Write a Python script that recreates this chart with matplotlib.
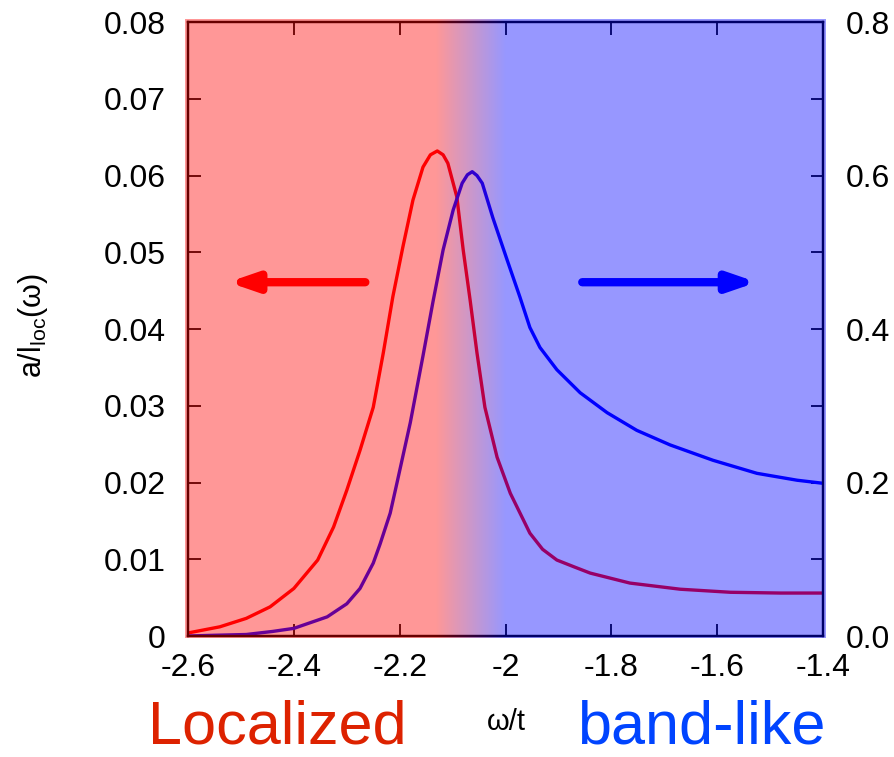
import numpy as np
import matplotlib
matplotlib.use('Agg')
from matplotlib import pyplot as plt

plt.rcParams['font.family'] = ['Liberation Sans', 'DejaVu Sans']
plt.rcParams['mathtext.fontset'] = 'custom'
plt.rcParams['mathtext.rm'] = 'Liberation Sans'
plt.rcParams['mathtext.it'] = 'Liberation Sans'

# localized spectral weight (left axis)
w_loc = [-2.60, -2.54, -2.49, -2.445, -2.40, -2.355, -2.325, -2.30, -2.275, -2.25,
         -2.231, -2.213, -2.194, -2.175, -2.156, -2.142, -2.129, -2.118, -2.109, -2.092,
         -2.080, -2.067, -2.054, -2.039, -2.016, -1.991, -1.954, -1.93, -1.903, -1.87,
         -1.84, -1.765, -1.67, -1.575, -1.48, -1.40]
a_loc = [0.0004, 0.0012, 0.0023, 0.0038, 0.0062, 0.0099, 0.0142, 0.0190, 0.0242, 0.0298,
         0.0369, 0.0442, 0.0507, 0.0568, 0.0611, 0.0627, 0.0632, 0.0627, 0.0616, 0.0572,
         0.0503, 0.0438, 0.0369, 0.0298, 0.0233, 0.0186, 0.0134, 0.0113, 0.0099, 0.0090,
         0.0082, 0.0069, 0.0061, 0.0057, 0.0056, 0.0056]

# band-like spectral weight (right axis)
w_band = [-2.60, -2.55, -2.49, -2.44, -2.40, -2.337, -2.30, -2.275, -2.25, -2.237,
          -2.218, -2.205, -2.18, -2.156, -2.137, -2.118, -2.099, -2.082, -2.072, -2.063,
          -2.054, -2.044, -2.024, -1.997, -1.973, -1.954, -1.935, -1.903, -1.859, -1.808,
          -1.752, -1.689, -1.608, -1.525, -1.449, -1.40]
a_band = [0.0, 0.001, 0.002, 0.006, 0.010, 0.025, 0.042, 0.062, 0.095, 0.120,
          0.160, 0.200, 0.278, 0.365, 0.436, 0.503, 0.555, 0.590, 0.601, 0.605,
          0.600, 0.590, 0.545, 0.490, 0.442, 0.402, 0.376, 0.347, 0.317, 0.291,
          0.268, 0.249, 0.229, 0.212, 0.203, 0.199]

xticks = [-2.6, -2.4, -2.2, -2.0, -1.8, -1.6, -1.4]
xlabels = ['-2.6', '-2.4', '-2.2', '-2', '-1.8', '-1.6', '-1.4']
lticks = [0, 0.01, 0.02, 0.03, 0.04, 0.05, 0.06, 0.07, 0.08]
llabels = ['0', '0.01', '0.02', '0.03', '0.04', '0.05', '0.06', '0.07', '0.08']
rticks = [0.0, 0.2, 0.4, 0.6, 0.8]
rlabels = ['0.0', '0.2', '0.4', '0.6', '0.8']
rminor = [0.1, 0.3, 0.5, 0.7]

# colour change between the two regimes
w_red_end, w_blue_start = -2.13, -2.0

fig = plt.figure(figsize=(8.95, 7.57), dpi=100)
ax = fig.add_axes([0.2101, 0.1598, 0.7095, 0.8111])
ax2 = ax.twinx()

ax.plot(w_loc, a_loc, color='#ff0000', lw=2.4, solid_joinstyle='round')
ax2.plot(w_band, a_band, color='#0000ff', lw=2.4, solid_joinstyle='round')

ax.set_xlim(-2.6, -1.4)
ax.set_ylim(0, 0.08)
ax2.set_ylim(0, 0.8)

ax.set_xticks(xticks)
ax.set_xticklabels(xlabels)
ax.set_yticks(lticks)
ax.set_yticklabels(llabels)
ax2.set_yticks(rticks)
ax2.set_yticklabels(rlabels)
ax2.set_yticks(rminor, minor=True)

ax.tick_params(axis='both', direction='in', length=9, width=1.3, labelsize=23)
ax.tick_params(axis='x', top=True, pad=12)
ax.tick_params(axis='y', pad=16)
ax2.tick_params(axis='y', which='both', direction='in', length=9, width=1.3, labelsize=23, pad=16)
for a in (ax, ax2):
    for s in a.spines.values():
        s.set_linewidth(1.6)

# arrows pointing to the axis each curve belongs to
ax.annotate('', xy=(-2.524, 0.0461), xytext=(-2.265, 0.0461),
            arrowprops=dict(arrowstyle='-|>,head_length=1.6,head_width=0.55',
                            color='#ff0000', lw=6, shrinkA=0, shrinkB=0))
ax.annotate('', xy=(-1.525, 0.0461), xytext=(-1.855, 0.0461),
            arrowprops=dict(arrowstyle='-|>,head_length=1.6,head_width=0.55',
                            color='#0000ff', lw=6, shrinkA=0, shrinkB=0))

# translucent red -> blue wash over the whole frame
x0, x1 = ax.get_xlim()
wg = np.linspace(x0, x1, 600)
t = np.clip((wg - w_red_end) / (w_blue_start - w_red_end), 0, 1)
grad = np.zeros((1, wg.size, 4))
grad[0, :, 0] = 1 - t
grad[0, :, 2] = t
grad[0, :, 3] = 0.41
ax2.imshow(grad, extent=(-0.004, 1.004, -0.004, 1.004), transform=ax2.transAxes,
           aspect='auto', interpolation='bilinear', zorder=20, clip_on=False)
ax2.set_xlim(x0, x1)

fig.text(33 / 895, 1 - 326 / 757, r'a/l$_{\mathrm{loc}}$(ω)', rotation=90,
         ha='center', va='center', fontsize=22)
fig.text(506 / 895, 1 - 722 / 757, 'ω/t', ha='center', va='center', fontsize=21)
fig.text(277 / 895, 1 - 744 / 757, 'Localized', ha='center', va='baseline',
         fontsize=44, color='#dd2200')
fig.text(701 / 895, 1 - 744 / 757, 'band-like', ha='center', va='baseline',
         fontsize=44, color='#0044ff')

fig.savefig('out.png', dpi=100)
